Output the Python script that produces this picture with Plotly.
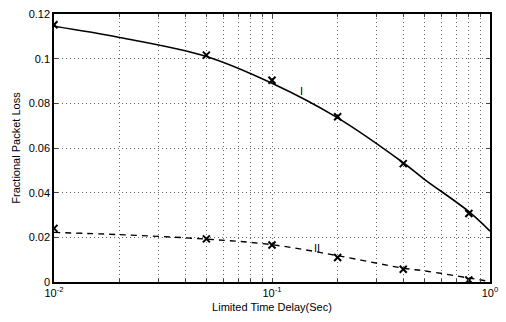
import plotly.graph_objects as go

# Measured points (markers)
delay = [0.01, 0.05, 0.1, 0.2, 0.4, 0.8]
loss_I_pts = [0.1152, 0.1016, 0.0903, 0.0740, 0.0530, 0.0307]
loss_II_pts = [0.0240, 0.0193, 0.0166, 0.0110, 0.0057, 0.0009]

# Fitted curves
curve_x = [0.01, 0.02, 0.05, 0.1, 0.2, 0.4, 0.5, 0.8, 1.0]
curve_I = [0.1145, 0.1095, 0.1010, 0.0890, 0.0735, 0.0534, 0.0460, 0.0315, 0.0228]
curve_II = [0.0222, 0.0212, 0.0192, 0.0167, 0.0118, 0.0062, 0.0050, 0.0018, 0.0002]

x_tickvals = [0.01, 0.1, 1]
x_ticktext = ["10<sup>-2</sup>", "10<sup>-1</sup>", "10<sup>0</sup>"]
x_minor = [m * d for d in (0.01, 0.1) for m in range(2, 10)]
y_tickvals = [0, 0.02, 0.04, 0.06, 0.08, 0.1, 0.12]
y_ticktext = ["0", "0.02", "0.04", "0.06", "0.08", "0.1", "0.12"]

fig = go.Figure()
fig.add_trace(go.Scatter(x=curve_x, y=curve_I, mode="lines",
                         line=dict(color="black", width=1.6, shape="spline")))
fig.add_trace(go.Scatter(x=curve_x, y=curve_II, mode="lines",
                         line=dict(color="black", width=1.4, dash="6px,5px", shape="spline")))
fig.add_trace(go.Scatter(x=delay, y=loss_I_pts, mode="markers",
                         marker=dict(symbol="x-thin", size=7, line=dict(color="black", width=2))))
fig.add_trace(go.Scatter(x=delay, y=loss_II_pts, mode="markers",
                         marker=dict(symbol="x-thin", size=7, line=dict(color="black", width=2))))

fig.add_annotation(x=-0.863, y=0.0854, text="I", showarrow=False,
                   font=dict(size=11, color="black"))
fig.add_annotation(x=-0.795, y=0.0153, text="II", showarrow=False,
                   font=dict(size=11, color="black"))

grid = dict(showgrid=True, gridcolor="#666666", griddash="1px,3px", gridwidth=1)

fig.update_layout(
    width=506, height=322,
    margin=dict(l=54, r=14, t=8, b=40),
    paper_bgcolor="white", plot_bgcolor="white",
    showlegend=False,
    font=dict(family="Liberation Sans, Arial, sans-serif", size=11, color="black"),
    xaxis=dict(type="log", range=[-2, 0], tickmode="array", tickvals=x_tickvals,
               ticktext=x_ticktext, ticks="inside", ticklen=4, mirror="allticks",
               showline=True, linecolor="black", linewidth=1.5, zeroline=False,
               tickfont=dict(size=11),
               title=dict(text="Limited Time Delay(Sec)", standoff=5, font=dict(size=11)),
               minor=dict(tickmode="array", tickvals=x_minor, ticks="inside", ticklen=3,
                          showgrid=True, gridcolor="#666666", griddash="1px,3px", gridwidth=1),
               **grid),
    yaxis=dict(range=[0, 0.12], tickmode="array", tickvals=y_tickvals, ticktext=y_ticktext,
               ticks="inside", ticklen=4, mirror="allticks",
               showline=True, linecolor="black", linewidth=1.5, zeroline=False,
               tickfont=dict(size=11),
               title=dict(text="Fractional Packet Loss", standoff=6, font=dict(size=11)),
               **grid),
)

fig.write_html("out.html")
